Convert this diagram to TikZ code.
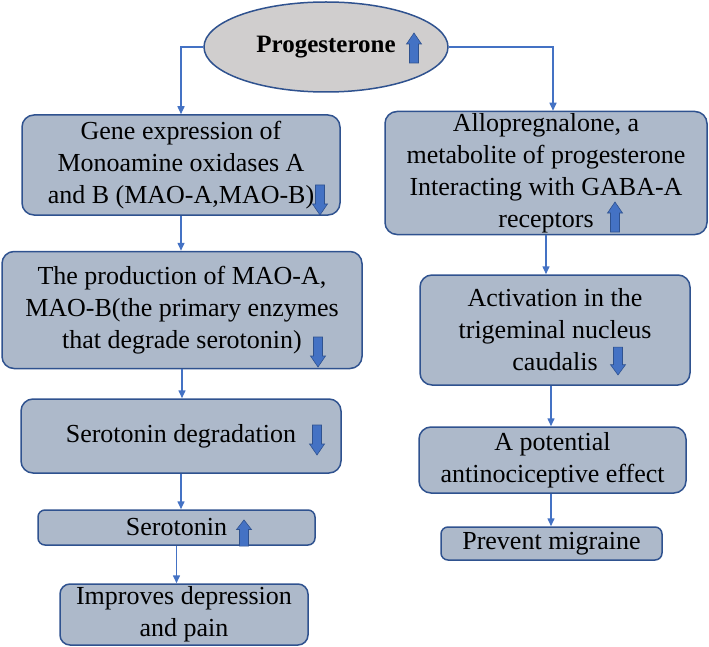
\documentclass[tikz,border=0pt]{standalone}
\usepackage{fontspec}
\setmainfont{Liberation Serif}
\usetikzlibrary{arrows.meta,shapes.geometric}
\definecolor{boxfill}{HTML}{ADB9CA}
\definecolor{boxline}{HTML}{2F528F}
\definecolor{linkblue}{HTML}{4472C4}
\definecolor{ellfill}{HTML}{D0CECE}
\def\blockarrow(#1,#2)[#3]{\draw[arrowfill,shift={(#1,#2)},yscale=#3] (-4.5,-15) -- (4.5,-15) -- (4.5,4) -- (7.5,4) -- (0,15) -- (-7.5,4) -- (-4.5,4) -- cycle;}

\begin{document}
\begin{tikzpicture}[x=1pt,y=-1pt,
	procbox/.style={rectangle,rounded corners=12pt,draw=boxline,fill=boxfill,line width=1.5pt,align=center,inner sep=0pt,font=\fontsize{26}{32}\selectfont},
	link/.style={draw=linkblue,line width=1.5pt,-{Triangle[length=8pt,width=7pt]}},
	arrowfill/.style={fill=linkblue,draw=boxline,line width=0.6pt}]
			%%%%% START %%%%%
			
			\useasboundingbox (0,0) rectangle (709,647);
			
			\node[ellipse,draw=boxline,fill=ellfill,line width=1.5pt,minimum width=244pt,minimum height=90pt,inner sep=0pt,font=\fontsize{25}{30}\selectfont\bfseries] (prog) at (326,47) {Progesterone};
			
			\node[procbox,minimum width=318pt,minimum height=100pt] (gene) at (181,165) {Gene expression of\\Monoamine oxidases A\\and B (MAO-A,MAO-B)};
			\node[procbox,minimum width=360pt,minimum height=117pt] (prod) at (182,310) {The production of MAO-A,\\MAO-B(the primary enzymes\\that degrade serotonin)};
			\node[procbox,minimum width=320pt,minimum height=74pt] (degr) at (181,436) {Serotonin degradation};
			\node[procbox,rounded corners=7pt,minimum width=277pt,minimum height=35pt] (sero) at (176.5,527.5) {Serotonin};
			\node[procbox,rounded corners=10pt,minimum width=248pt,minimum height=61pt] (impr) at (184,614.5) {Improves depression\\and pain};
			
			\node[procbox,minimum width=322pt,minimum height=123pt] (allo) at (546,173) {Allopregnalone, a\\metabolite of progesterone\\Interacting with GABA-A\\receptors};
			\node[procbox,minimum width=270pt,minimum height=110pt] (actv) at (555,330) {Activation in the\\trigeminal nucleus\\caudalis};
			\node[procbox,minimum width=267pt,minimum height=66pt] (pote) at (552.5,460) {A potential\\antinociceptive effect};
			\node[procbox,rounded corners=7pt,minimum width=221pt,minimum height=33pt] (prev) at (551.5,543.5) {Prevent migraine};
			
			\draw[link] (prog.west) -| (gene.north);
			\draw[link] (prog.east) -| ([xshift=7pt]allo.north);
			
			\draw[link] (gene.south) -- (gene.south |- prod.north);
			\draw[link] (prod.south) -- (prod.south |- degr.north);
			\draw[link] (degr.south) -- (degr.south |- sero.north);
			\draw[link] (sero.south) -- (sero.south |- impr.north);
			
			\draw[link] (allo.south) -- (allo.south |- actv.north);
			\draw[link] ([xshift=-4pt]actv.south) -- ([xshift=-4pt]actv.south |- pote.north);
			\draw[link] ([xshift=-1.5pt]pote.south) -- ([xshift=-1.5pt]pote.south |- prev.north);
			
			\blockarrow(414,48)[-1]
			\blockarrow(320,200)[1]
			\blockarrow(318,352)[1]
			\blockarrow(317,440)[1]
			\blockarrow(244,533)[-0.87]
			\blockarrow(615,217)[-1]
			\blockarrow(618,361)[0.93]
			
			%%%%% END %%%%%
\end{tikzpicture}
\end{document}
